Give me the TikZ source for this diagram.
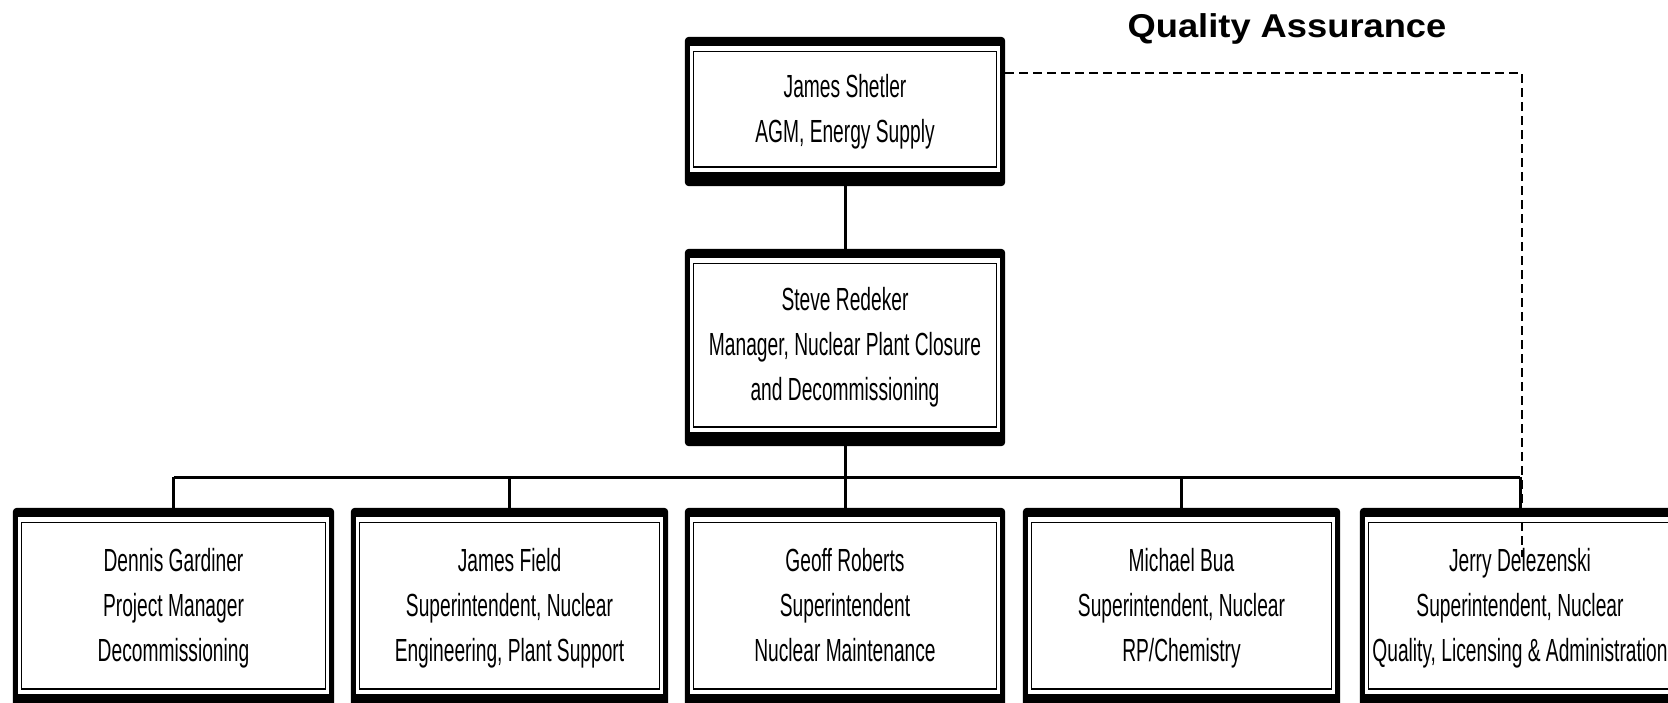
\documentclass[tikz,border=0pt]{standalone}
\usepackage{fontspec}
\setmainfont{Liberation Sans}
\newfontfamily\condfont[FakeStretch=0.6]{Liberation Sans}
\newfontfamily\qafont[FakeStretch=1.1]{Liberation Sans}
\usetikzlibrary{backgrounds}
\begin{document}
\begin{tikzpicture}[x=1pt,y=-1pt,
  orgbox/.style={inner sep=0pt, minimum width=320pt, align=center,
    font=\condfont\fontsize{32}{45}\selectfont},
  conn/.style={line width=3pt},
  qaline/.style={line width=2pt, dash pattern=on 9pt off 5pt},
  qatitle/.style={font=\qafont\bfseries\fontsize{33}{40}\selectfont, anchor=base, inner sep=0pt}]
\useasboundingbox (0,0) rectangle (1668,702);

\node[qatitle] (qa) at (1287,37) {Quality Assurance};

\node[orgbox, minimum height=149pt] (shetler) at (845,111.5) {James Shetler\\AGM, Energy Supply};
\node[orgbox, minimum height=197pt] (redeker) at (845,347.5) {Steve Redeker\\Manager, Nuclear Plant Closure\\and Decommissioning};

\node[orgbox, minimum height=200pt, minimum width=321pt] (gardiner) at (173.5,608) {Dennis Gardiner\\Project Manager\\Decommissioning};
\node[orgbox, minimum height=200pt, minimum width=317pt] (field) at (509.5,608) {James Field\\Superintendent, Nuclear\\Engineering, Plant Support};
\node[orgbox, minimum height=200pt] (roberts) at (845,608) {Geoff Roberts\\Superintendent\\Nuclear Maintenance\vphantom{g}};
\node[orgbox, minimum height=200pt, minimum width=317pt] (bua) at (1181.5,608) {Michael Bua\\Superintendent, Nuclear\\RP/Chemistry};
\node[orgbox, minimum height=200pt] (delez) at (1520,608) {Jerry Delezenski\\Superintendent, Nuclear\\Quality, Licensing \& Administration};

\begin{scope}[on background layer]
\fill[white] (0,0) rectangle (1668,702);
\foreach \n in {shetler,redeker,gardiner,field,roberts,bua,delez}{
  \fill[black, rounded corners=4pt] (\n.north west) rectangle (\n.south east);
  \fill[white] ([xshift=5pt,yshift=-9pt]\n.north west) rectangle ([xshift=-5pt,yshift=14pt]\n.south east);
  \draw[line width=1.5pt] ([xshift=8.5pt,yshift=-14.5pt]\n.north west) rectangle ([xshift=-8.5pt,yshift=19pt]\n.south east);
}
\end{scope}

\coordinate (busmid) at (845,477);
\draw[conn] (shetler.south) -- (redeker.north);
\draw[conn] (redeker.south) -- (busmid);
\draw[conn] (gardiner.north |- busmid) -- (delez.north |- busmid);
\foreach \n in {gardiner,field,roberts,bua,delez}
  \draw[conn] (\n.north |- busmid) -- (\n.north);

\coordinate (qacorner) at (1522,73);
\coordinate (qaend) at (1522,557);
\draw[qaline] (shetler.east |- qacorner) -- (qacorner) -- (qaend);
\end{tikzpicture}
\end{document}
